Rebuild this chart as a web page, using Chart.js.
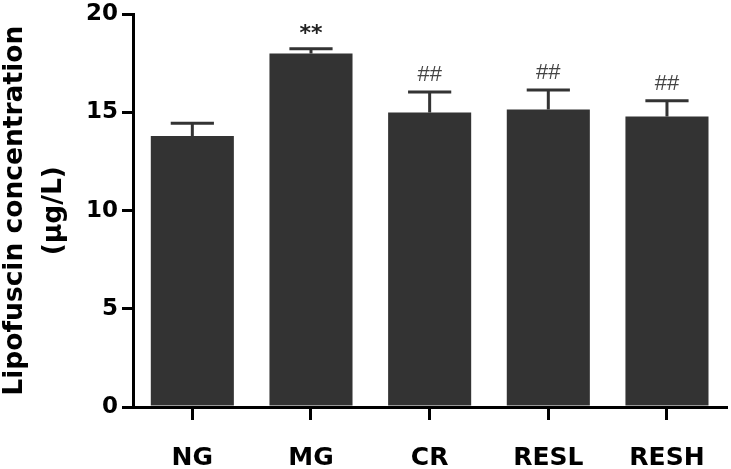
<!DOCTYPE html>
<html>
<head>
<meta charset="utf-8">
<script src="https://cdn.jsdelivr.net/npm/chart.js@4.4.1/dist/chart.umd.min.js"></script>
<style>
  html, body { margin: 0; padding: 0; background: #ffffff; }
  #wrap { width: 731px; height: 469px; position: relative; }
</style>
</head>
<body>
<div id="wrap"><canvas id="c" width="731" height="469"></canvas></div>
<script>
const categories = ['NG', 'MG', 'CR', 'RESL', 'RESH'];
const means = [13.8, 18.0, 15.0, 15.15, 14.8];
const sem = [0.65, 0.25, 1.05, 1.0, 0.8];
const marks = ['', '**', '##', '##', '##'];
const yTicks = [0, 5, 10, 15, 20];
const yTitle = ['Lipofuscin concentration', '(\u03BCg/L)'];

const barColor = '#333333';

const errorBarPlugin = {
  id: 'errorBars',
  afterDatasetsDraw(chart) {
    const ctx = chart.ctx;
    const meta = chart.getDatasetMeta(0);
    const y = chart.scales.y;
    ctx.save();
    meta.data.forEach((bar, i) => {
      const top = y.getPixelForValue(means[i] + sem[i]);
      const half = bar.width * 0.26;
      ctx.strokeStyle = barColor;
      ctx.lineWidth = 3;
      ctx.beginPath();
      ctx.moveTo(bar.x, bar.y);
      ctx.lineTo(bar.x, top);
      ctx.moveTo(bar.x - half, top);
      ctx.lineTo(bar.x + half, top);
      ctx.stroke();
      const m = marks[i];
      if (m) {
        ctx.textAlign = 'center';
        ctx.textBaseline = 'alphabetic';
        if (m === '**') {
          ctx.font = 'bold 22px "DejaVu Sans"';
          ctx.fillStyle = '#222222';
          ctx.fillText(m, bar.x, top - 9);
        } else {
          ctx.font = '22px "Liberation Sans"';
          ctx.fillStyle = '#444444';
          ctx.fillText(m, bar.x, top - 11);
        }
      }
    });
    ctx.restore();
  }
};

new Chart(document.getElementById('c'), {
  type: 'bar',
  data: {
    labels: categories,
    datasets: [{
      data: means,
      backgroundColor: barColor,
      borderWidth: 0,
      barPercentage: 0.7,
      categoryPercentage: 1.0
    }]
  },
  options: {
    responsive: false,
    animation: false,
    devicePixelRatio: 1,
    layout: { padding: { left: 0, right: 4, top: 0, bottom: 0 } },
    plugins: { legend: { display: false }, tooltip: { enabled: false } },
    scales: {
      x: {
        offset: true,
        border: { display: true, color: '#000000', width: 3 },
        grid: { display: true, offset: false, drawOnChartArea: false, drawTicks: true, tickLength: 13, lineWidth: 3, color: '#000000' },
        ticks: {
          color: '#000000',
          font: { family: '"DejaVu Sans"', size: 25, weight: 'bold', lineHeight: 1.0 },
          padding: 26,
          maxRotation: 0
        },
        afterFit(scale) { scale.height = 62; }
      },
      y: {
        min: 0,
        max: 20,
        border: { display: true, color: '#000000', width: 3 },
        grid: { display: true, drawOnChartArea: false, drawTicks: true, tickLength: 11, lineWidth: 3, color: '#000000' },
        afterBuildTicks(scale) { scale.ticks = yTicks.map(v => ({ value: v })); },
        ticks: {
          color: '#000000',
          font: { family: '"DejaVu Sans"', size: 23, weight: 'bold', lineHeight: 0.9 },
          padding: 4
        },
        title: {
          display: true,
          text: yTitle,
          color: '#000000',
          font: { family: '"DejaVu Sans"', size: 26.5, weight: 'bold', lineHeight: 1.45 },
          padding: { top: -4, bottom: 0 }
        },
        afterFit(scale) { scale.width = 133; }
      }
    }
  },
  plugins: [errorBarPlugin]
});
</script>
</body>
</html>
